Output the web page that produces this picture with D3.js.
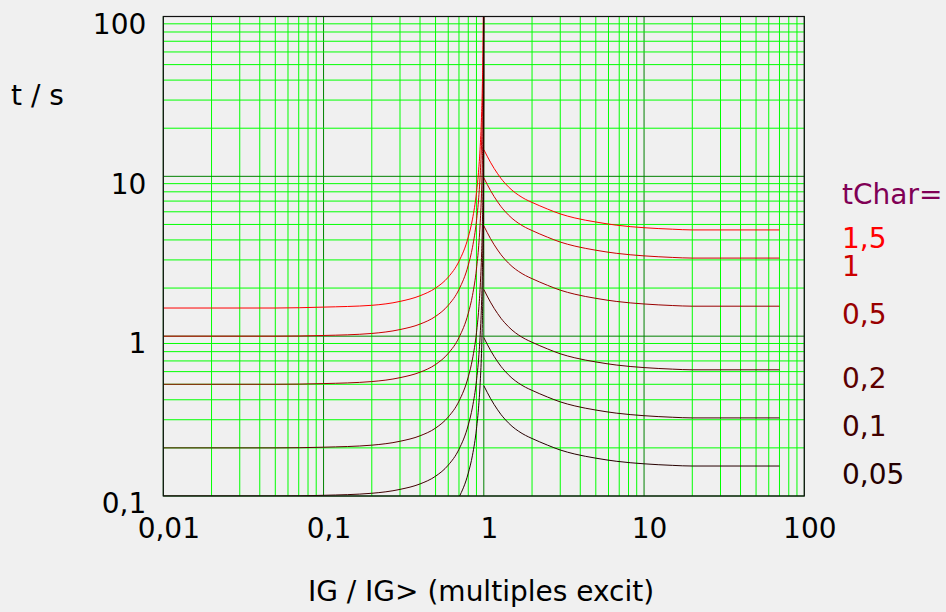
<!DOCTYPE html>
<html>
<head>
<meta charset="utf-8">
<title>tChar characteristic</title>
<script src="https://d3js.org/d3.v7.min.js"></script>
<style>
  body { margin: 0; background: #f0f0f0; }
  svg { display: block; font-family: "DejaVu Sans", sans-serif; }
</style>
</head>
<body>
<svg width="946" height="612"></svg>
<script>
// tick labels (comma decimals as in the original)
var xTicks = [0.01, 0.1, 1, 10, 100];
var xTickLabels = ["0,01", "0,1", "1", "10", "100"];
var yTicks = [0.1, 1, 10, 100];
var yTickLabels = ["0,1", "1", "10", "100"];

// curve parameters
var tChar = [1.5, 1, 0.5, 0.2, 0.1, 0.05];
var tCharLabels = ["1,5", "1", "0,5", "0,2", "0,1", "0,05"];
var curveColors = ["#ff0000", "#cc0000", "#990000", "#5c0000", "#400000", "#260000"];

// IG/IG> below 1 (times rise towards 1)
var leftI = [0.01, 0.02, 0.05, 0.1, 0.2, 0.3, 0.4, 0.5, 0.6, 0.7, 0.8, 0.85, 0.9, 0.93, 0.95, 0.97, 0.98, 0.99, 0.995, 0.999, 0.9999];
var leftT = [
  [1.5, 1.5, 1.5, 1.52, 1.56, 1.65, 1.79, 2.0, 2.34, 2.94, 4.17, 5.4, 7.9, 11.1, 15.4, 25.4, 38, 75, 150, 750, 7500],
  [1.0, 1.0, 1.0, 1.01, 1.04, 1.1, 1.19, 1.33, 1.56, 1.96, 2.78, 3.6, 5.26, 7.4, 10.3, 16.9, 25.3, 50, 100, 500, 5000],
  [0.5, 0.5, 0.5, 0.505, 0.52, 0.55, 0.595, 0.665, 0.78, 0.98, 1.39, 1.8, 2.63, 3.7, 5.15, 8.45, 12.6, 25, 50, 250, 2500],
  [0.2, 0.2, 0.2, 0.202, 0.208, 0.22, 0.238, 0.266, 0.312, 0.392, 0.556, 0.72, 1.05, 1.48, 2.06, 3.38, 5.06, 10, 20, 100, 1000],
  [0.1, 0.1, 0.1, 0.101, 0.104, 0.11, 0.119, 0.133, 0.156, 0.196, 0.278, 0.36, 0.526, 0.74, 1.03, 1.69, 2.53, 5, 10, 50, 500],
  [0.05, 0.05, 0.05, 0.0505, 0.052, 0.055, 0.0595, 0.0665, 0.078, 0.098, 0.139, 0.18, 0.263, 0.37, 0.515, 0.845, 1.26, 2.5, 5, 25, 250]
];

// IG/IG> from 1 upward (times fall to a floor)
var rightI = [1, 1.05, 1.1, 1.16, 1.22, 1.28, 1.35, 1.5, 1.65, 1.82, 2, 2.5, 3, 3.7, 5, 6.7, 10, 15, 20, 70];
var rightT = [
  [14.7, 13.37, 12.26, 11.2, 10.38, 9.7, 9.1, 8.19, 7.62, 7.18, 6.87, 6.24, 5.82, 5.49, 5.18, 4.95, 4.77, 4.67, 4.62, 4.62],
  [9.8, 8.91, 8.17, 7.47, 6.92, 6.47, 6.07, 5.46, 5.08, 4.79, 4.58, 4.16, 3.88, 3.66, 3.45, 3.30, 3.18, 3.11, 3.08, 3.08],
  [4.9, 4.455, 4.085, 3.735, 3.46, 3.235, 3.035, 2.73, 2.54, 2.395, 2.29, 2.08, 1.94, 1.83, 1.725, 1.65, 1.59, 1.555, 1.54, 1.54],
  [1.96, 1.782, 1.634, 1.494, 1.384, 1.294, 1.214, 1.092, 1.016, 0.958, 0.916, 0.832, 0.776, 0.732, 0.69, 0.66, 0.636, 0.622, 0.616, 0.616],
  [0.98, 0.891, 0.817, 0.747, 0.692, 0.647, 0.607, 0.546, 0.508, 0.479, 0.458, 0.416, 0.388, 0.366, 0.345, 0.33, 0.318, 0.311, 0.308, 0.308],
  [0.49, 0.4455, 0.4085, 0.3735, 0.346, 0.3235, 0.3035, 0.273, 0.254, 0.2395, 0.229, 0.208, 0.194, 0.183, 0.1725, 0.165, 0.159, 0.1555, 0.154, 0.154]
];

var svg = d3.select("svg");
var plotL = 163.3, plotR = 804.3, plotT = 16.5, plotB = 496;

var x = d3.scaleLog().domain([0.01, 100]).range([plotL, plotR]);
var y = d3.scaleLog().domain([0.1, 100]).range([plotB, plotT]);

function isDecade(d) {
    var l = Math.log10(d);
    return Math.abs(l - Math.round(l)) < 1e-9;
}

// grid: minor lines first, decade lines on top
var gx = x.ticks().sort(function(a, b) { return isDecade(a) - isDecade(b); });
var gy = y.ticks().sort(function(a, b) { return isDecade(a) - isDecade(b); });

var grid = svg.append("g").attr("class", "grid");
grid.selectAll("line.v")
    .data(gx)
    .enter().append("line")
    .attr("class", "v")
    .attr("x1", function(d) { return x(d); })
    .attr("x2", function(d) { return x(d); })
    .attr("y1", plotT)
    .attr("y2", plotB)
    .attr("stroke", function(d) { return isDecade(d) ? "#008000" : "#00ff00"; })
    .attr("stroke-width", 1);

grid.selectAll("line.h")
    .data(gy)
    .enter().append("line")
    .attr("class", "h")
    .attr("y1", function(d) { return y(d); })
    .attr("y2", function(d) { return y(d); })
    .attr("x1", plotL)
    .attr("x2", plotR)
    .attr("stroke", function(d) { return isDecade(d) ? "#008000" : "#00ff00"; })
    .attr("stroke-width", 1);

// axes (labels only)
var xAxis = svg.append("g")
    .attr("transform", "translate(0," + plotB + ")")
    .call(d3.axisBottom(x).tickValues(xTicks).tickSize(0).tickPadding(22)
        .tickFormat(function(d, i) { return xTickLabels[i]; }));
xAxis.select(".domain").remove();
xAxis.selectAll("text")
    .attr("dx", 5)
    .attr("font-size", 28)
    .attr("font-family", "DejaVu Sans")
    .attr("fill", "#000");

var yAxis = svg.append("g")
    .attr("transform", "translate(" + plotL + ",0)")
    .call(d3.axisLeft(y).tickValues(yTicks).tickSize(0).tickPadding(17)
        .tickFormat(function(d, i) { return yTickLabels[i]; }));
yAxis.select(".domain").remove();
yAxis.selectAll("text")
    .attr("dy", "0.6em")
    .attr("font-size", 28)
    .attr("font-family", "DejaVu Sans")
    .attr("fill", "#000");

// curves
svg.append("clipPath").attr("id", "plotclip")
    .append("rect")
    .attr("x", plotL).attr("y", plotT)
    .attr("width", plotR - plotL).attr("height", plotB - plotT);

var line = d3.line()
    .x(function(d) { return x(d[0]); })
    .y(function(d) { return y(d[1]); })
    .curve(d3.curveMonotoneX);

var curves = svg.append("g").attr("clip-path", "url(#plotclip)");
tChar.forEach(function(tc, i) {
    var lpts = leftI.map(function(c, j) { return [c, leftT[i][j]]; });
    var rpts = rightI.map(function(c, j) { return [c, rightT[i][j]]; });
    [lpts, rpts].forEach(function(pts) {
        curves.append("path")
            .datum(pts)
            .attr("d", line)
            .attr("fill", "none")
            .attr("stroke", curveColors[i])
            .attr("stroke-width", 1);
    });
});

// frame
svg.append("rect")
    .attr("x", plotL).attr("y", plotT)
    .attr("width", plotR - plotL).attr("height", plotB - plotT)
    .attr("fill", "none")
    .attr("stroke", "#111")
    .attr("stroke-width", 1.2);

// legend on the right
svg.append("text")
    .attr("x", 842).attr("y", 204)
    .attr("font-size", 28)
    .attr("fill", "#800055")
    .text("tChar=");

svg.selectAll("text.lbl")
    .data(tChar)
    .enter().append("text")
    .attr("class", "lbl")
    .attr("x", 842)
    .attr("y", function(d, i) { return y(rightT[i][rightT[i].length - 1]) + 18; })
    .attr("font-size", 28)
    .attr("fill", function(d, i) { return curveColors[i]; })
    .text(function(d, i) { return tCharLabels[i]; });

// axis titles
svg.append("text")
    .attr("x", 11).attr("y", 105)
    .attr("font-size", 28)
    .attr("fill", "#000")
    .text("t / s");

svg.append("text")
    .attr("x", 481).attr("y", 601)
    .attr("text-anchor", "middle")
    .attr("font-size", 28)
    .attr("fill", "#000")
    .text("IG / IG> (multiples excit)");
</script>
</body>
</html>
